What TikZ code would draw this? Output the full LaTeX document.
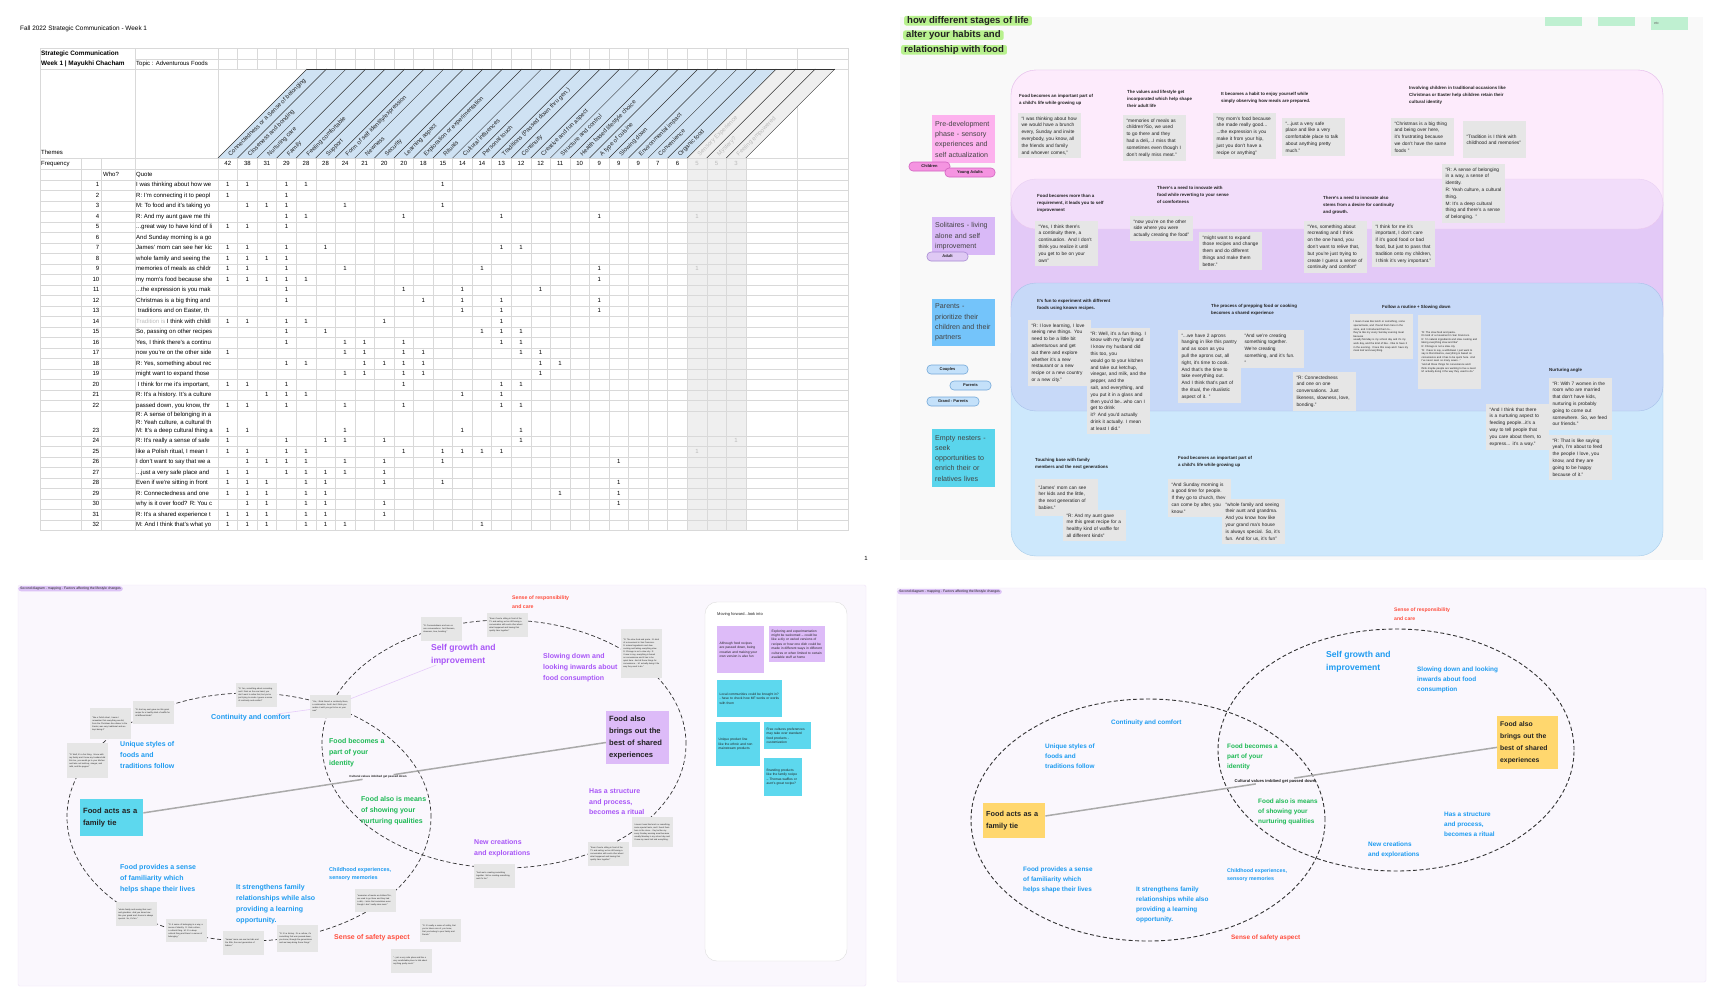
\documentclass[tikz,border=0pt]{standalone}
\usepackage{fontspec}
\setmainfont{Liberation Sans}
\usetikzlibrary{positioning}

\definecolor{gridgrey}{HTML}{D9D9D9}
\definecolor{headblue}{HTML}{CFE2F3}
\definecolor{headgrey}{HTML}{EFEFEF}
\definecolor{greytext}{HTML}{BBBBBB}
\definecolor{darktext}{HTML}{222222}
\definecolor{panelgrey}{HTML}{F9F9F9}
\definecolor{notegrey}{HTML}{E6E6E6}
\definecolor{bandpink}{HTML}{FDEBFC}
\definecolor{bandpinkline}{HTML}{E9C6EE}
\definecolor{bandpurple}{HTML}{E3C9F7}
\definecolor{bandpurpleline}{HTML}{C9A6E6}
\definecolor{bandblue}{HTML}{C7D9F8}
\definecolor{bandblueline}{HTML}{A9C1EA}
\definecolor{bandsky}{HTML}{CDE8FC}
\definecolor{bandskyline}{HTML}{A9CDEA}
\definecolor{stpink}{HTML}{FDB2EE}
\definecolor{stpurple}{HTML}{D9B9F7}
\definecolor{stblue}{HTML}{74C4FA}
\definecolor{stteal}{HTML}{5AD5EC}
\definecolor{pillpink}{HTML}{F594E1}
\definecolor{pillpinkline}{HTML}{D262C0}
\definecolor{pillpurple}{HTML}{DFC9F4}
\definecolor{pillpurpleline}{HTML}{A78BD3}
\definecolor{pillblue}{HTML}{C4E1FA}
\definecolor{pillblueline}{HTML}{73A8D8}
\definecolor{hlgreen}{HTML}{B8F18E}
\definecolor{mintnote}{HTML}{BFF0D1}
\definecolor{mapbg}{HTML}{FAF7FD}
\definecolor{mapedge}{HTML}{F0E4F8}
\definecolor{tagpurple}{HTML}{DCC3F6}
\definecolor{mappurple}{HTML}{A855F7}
\definecolor{mapblue}{HTML}{1D9BF0}
\definecolor{mapgreen}{HTML}{1DB954}
\definecolor{mapred}{HTML}{FF4D3D}
\definecolor{lilacbox}{HTML}{DDBBF8}
\definecolor{tealbox}{HTML}{5DD8EE}
\definecolor{yellowbox}{HTML}{FFD76E}
\definecolor{linegrey}{HTML}{AAAAAA}
\definecolor{ringgrey}{HTML}{333333}
\definecolor{faintpurple}{HTML}{E6CCF9}
\definecolor{mfedge}{HTML}{DDDDDD}

\newcommand{\fsz}[2]{\fontsize{#1}{#2}\selectfont}

\tikzset{
  gridline/.style={draw=gridgrey, line width=0.5pt},
  cell/.style={font=\fsz{6}{7}, inner sep=0pt, text height=4.3pt, text depth=1.2pt},
  theme/.style={font=\fsz{6}{7}, rotate=45, anchor=base west, inner sep=0pt, text=darktext},
  quotebox/.style={fill=notegrey, anchor=north west, align=left, text width=56pt, inner xsep=3.3pt, inner ysep=3.5pt, font=\fsz{4.8}{6.8}, text=darktext},
  headline/.style={anchor=north west, align=left, inner sep=0pt, font=\bfseries\fsz{4.4}{7}, text=darktext},
  stagebox/.style={anchor=north west, minimum width=63pt, text width=57pt, inner xsep=3pt, align=left, font=\fsz{7.1}{10.3}, text=darktext!85},
  pill/.style={rounded corners=4pt, minimum height=9pt, inner sep=0pt, font=\bfseries\fsz{4}{5}, text=darktext, line width=0.6pt},
  hilite/.style={fill=hlgreen, anchor=west, inner xsep=3pt, inner ysep=0.3pt, font=\bfseries\fsz{9.6}{11}, text=darktext, rounded corners=2pt},
  tinynote/.style={fill=notegrey, anchor=north west, text width=36pt, inner sep=2.2pt, align=left, font=\fsz{2.1}{3}, text=darktext},
  maptag/.style={anchor=north west, fill=tagpurple, rounded corners=3pt, inner xsep=2pt, inner ysep=1pt, font=\fsz{3.4}{4}, text=darktext},
  maptext/.style={anchor=base west, align=left, inner sep=0pt, font=\bfseries\fsz{7}{11}},
  maptextb/.style={anchor=base west, align=left, inner sep=0pt, font=\bfseries\fsz{6.4}{10}},
  mapbox/.style={anchor=north west, text width=57pt, inner xsep=3pt, align=left, font=\bfseries\fsz{7.6}{12}, text=darktext},
  tieline/.style={draw=linegrey, line width=1.5pt},
  ringline/.style={draw=ringgrey, dash pattern=on 4pt off 2.5pt, line width=0.7pt},
  stickynote/.style={anchor=north west, align=left, inner sep=2.5pt, font=\fsz{3.3}{4.4}, text=darktext},
}

\begin{document}
\hyphenpenalty=10000
\exhyphenpenalty=10000
\begin{tikzpicture}[x=1pt,y=-1pt]
\useasboundingbox (0,0) rectangle (1732,1005);
\fill[white] (0,0) rectangle (1732,1005);

% ================= Spreadsheet =================
\node[anchor=west, font=\fsz{6.4}{7.5}, inner sep=0pt] (sheettitle) at (20,29) {Fall 2022 Strategic Communication - Week 1};

% Shaded columns
\fill[headgrey] (687.2,158) rectangle (745.85,530.5);

% Grid lines
\draw[gridline] (40,48) -- (848,48);
\draw[gridline] (135,59) -- (848,59);
\foreach \y in {69,158,169,180}
  \draw[gridline] (40,\y) -- (848,\y);
\foreach \k in {1,...,22}
  \draw[gridline] (40,{180+10.5*\k}) -- (848,{180+10.5*\k});
\foreach \k in {0,...,9}
  \draw[gridline] (40,{436+10.5*\k}) -- (848,{436+10.5*\k});
\foreach \x in {40,135,218,797,848}
  \draw[gridline] (\x,48) -- (\x,530.5);
\foreach \x in {81,101}
  \draw[gridline] (\x,158) -- (\x,530.5);
\foreach \k in {1,...,27} {
  \draw[gridline] ({218+19.55*\k},48) -- ({218+19.55*\k},69);
  \draw[gridline] ({218+19.55*\k},158) -- ({218+19.55*\k},530.5);
}

% Slanted theme header
\fill[headblue] (218,158) -- (687.2,158) -- (776.2,69) -- (307,69) -- cycle;
\fill[headgrey] (687.2,158) -- (745.85,158) -- (834.85,69) -- (776.2,69) -- cycle;
\foreach \k in {0,...,27}
  \draw[ringgrey, line width=0.5pt] ({218+19.55*\k},158) -- ({307+19.55*\k},69);
\draw[ringgrey, line width=0.9pt] (307,69) -- (834.85,69);

\foreach \t [count=\k from 0] in {{Connectedness or a Sense of belonging},{Closeness and bonding},{Nurturing care},{Family},{Feeling comfortable},{Support},{Form of self identity/expression},{Newness},{Security},{Learning aspect},{Exploration or experimentation},{Rituals},{Cultural influences},{Personal touch},{Traditions (Passed down thru gen.)},{Continuity},{Creative and fun aspect},{Structure and control},{Health based lifestyle choice},{A type of cuisine},{Slowing down},{Environmental impact},{Convenience},{Organic food}}
  \node[theme] (th\k) at ({230.5+19.55*\k},156.5) {\t};
\foreach \t [count=\k from 24] in {{Sensory Experience},{Mystery?},{Feeling empowered}}
  \node[theme, text=greytext] (th\k) at ({230.5+19.55*\k},156.5) {\t};

% Header labels
\node[cell, anchor=west, font=\bfseries\fsz{6.4}{7.5}] (course) at (41,53.5) {Strategic Communication};
\node[cell, anchor=west, font=\bfseries\fsz{6.4}{7.5}] (week) at (41,64) {Week 1 | Mayukhi Chacham};
\node[cell, anchor=west] (topic) at (136,64) {Topic : Adventurous Foods};
\node[cell, anchor=west] (themes) at (41,153) {Themes};
\node[cell, anchor=west] (frequency) at (41,163.5) {Frequency};
\node[cell, anchor=west] (who) at (103,174.5) {Who?};
\node[cell, anchor=west] (quotehd) at (136,174.5) {Quote};

% Frequencies
\foreach \f [count=\k from 0] in {42,38,31,29,28,28,24,21,20,20,18,15,14,14,13,12,12,11,10,9,9,9,7,6}
  \node[cell] (fq\k) at ({227.8+19.55*\k},163.5) {\f};
\foreach \f [count=\k from 24] in {5,5,3}
  \node[cell, text=greytext] (fq\k) at ({227.8+19.55*\k},163.5) {\f};

% Row numbers
\foreach \r in {1,...,32} {
  \pgfmathsetmacro\ry{\r<23 ? 185.25+(\r-1)*10.5 : 441.25+(\r-24)*10.5}
  \node[cell, anchor=east] (rn\r) at (99.5,\ry) {\r};
}

% Quotes
\begin{scope}
\clip (135,180) rectangle (218,530.5);
\foreach \r/\q in {1/{I was thinking about how we},2/{R: I'm connecting it to peopl},3/{M: To food and it's taking yo},4/{R: And my aunt gave me thi},5/{...great way to have kind of li},6/{And Sunday morning is a go},7/{James' mom can see her kic},8/{whole family and seeing the},9/{memories of meals as childr},10/{my mom's food because she},11/{...the expression is you mak},12/{Christmas is a big thing and},13/{\ traditions and on Easter, th},14/{{\color{greytext}Tradition is} I think with childl},15/{So, passing on other recipes},16/{Yes, I think there's a continu},17/{now you're on the other side},18/{R: Yes, something about rec},19/{might want to expand those},20/{\ I think for me it's important,},21/{R: It's a history. It's a culture},22/{passed down, you know, thr},24/{R: It's really a sense of safe},25/{like a Polish ritual, I mean I},26/{I don't want to say that we a},27/{...just a very safe place and},28/{Even if we're sitting in front},29/{R: Connectedness and one},30/{why is it over food? R: You c},31/{R: It's a shared experience t},32/{M: And I think that's what yo}} {
  \pgfmathsetmacro\ry{\r<23 ? 185.25+(\r-1)*10.5 : 441.25+(\r-24)*10.5}
  \node[cell, anchor=west] (qt\r) at (136,\ry) {\q};
}
\node[cell, anchor=west] (qt23a) at (136,415.3) {R: A sense of belonging in a};
\node[cell, anchor=west] (qt23b) at (136,423) {R: Yeah culture, a cultural th};
\node[cell, anchor=west] (qt23c) at (136,430.75) {M: It's a deep cultural thing a};
\end{scope}

% Theme marks
\foreach \r/\cols in {1/{0,1,3,4,11},2/{0,3},3/{1,2,3,6,11},4/{3,4,9,14,19},5/{0,1,3},7/{0,1,3,5,14,15},8/{0,1,2,3},9/{0,1,3,6,13,19},10/{0,1,2,3,4,19},11/{3,9,12,16},12/{3,10,12,14,19},13/{12,14,19},14/{0,1,3,4,8,14},15/{3,5,13,14,15},16/{3,6,7,9,14,15},17/{0,6,7,9,10,15,16},18/{3,4,7,8,9,10,16,17},19/{6,7,9,10,16},20/{0,1,3,9,14,15},21/{2,3,4,12,14},22/{0,1,3,6,9,14,15},23/{0,1,6,12,15},24/{0,3,5,6,8,15},25/{0,1,3,4,9,11,12,13,14},26/{1,2,3,4,6,8,11,20},27/{0,1,3,4,5,6,8},28/{0,1,2,4,5,8,11,20},29/{0,1,2,4,5,17,20},30/{1,2,4,5,8,20},31/{0,1,2,4,5,8},32/{0,1,2,4,5,6,13}} {
  \pgfmathsetmacro\ry{\r<23 ? 185.25+(\r-1)*10.5 : 441.25+(\r-24)*10.5}
  \foreach \c in \cols
    \node[cell] (v\r x\c) at ({227.8+19.55*\c},\ry) {1};
}
\foreach \r/\c in {4/24,9/24,24/26,25/24} {
  \pgfmathsetmacro\ry{\r<23 ? 185.25+(\r-1)*10.5 : 441.25+(\r-24)*10.5}
  \node[cell, text=greytext] (v\r x\c) at ({227.8+19.55*\c},\ry) {1};
}
\node[cell] (pagenum) at (866,559) {1};

% ================= Life stages board =================
\fill[panelgrey] (900,17) rectangle (1703,560);

\node[hilite] (stagetitle1) at (904,20.7) {how different stages of life};
\node[hilite] (stagetitle2) at (903,35.2) {alter your habits and};
\node[hilite] (stagetitle3) at (901,49.8) {relationship with food};

\node[fill=mintnote, anchor=north west, minimum width=37pt, minimum height=9pt, inner sep=0pt] (mint1) at (1545,17) {};
\node[fill=mintnote, anchor=north west, minimum width=37pt, minimum height=9pt, inner sep=0pt] (mint2) at (1598,17) {};
\node[fill=mintnote, anchor=north west, minimum width=37pt, minimum height=13pt, inner xsep=3pt, text width=31pt, align=left, font=\fsz{3.6}{4.5}, text=darktext!70] (mint3) at (1651,17) {etc};

% Bands
\filldraw[fill=bandpink, draw=bandpinkline, rounded corners=25pt] (1011,70) rectangle (1663,229);
\filldraw[fill=bandpurple, draw=bandpurpleline, rounded corners=25pt] (1011,179) rectangle (1663,340);
\filldraw[fill=bandsky, draw=bandskyline, rounded corners=25pt] (1011,330) rectangle (1663,556);
\filldraw[fill=bandblue, draw=bandblueline, rounded corners=25pt] (1011,283) rectangle (1663,411);
\fill[bandpink, fill opacity=0.6, rounded corners=25pt] (1011,70) rectangle (1663,229);
\draw[bandpinkline, rounded corners=25pt] (1011,70) rectangle (1663,229);

% Stage labels
\node[stagebox, fill=stpink, minimum height=48pt] (predev) at (932,115) {Pre-development\\ phase - sensory\\ experiences and\\ self actualization};
\node[pill, fill=pillpink, draw=pillpinkline, minimum width=41pt] (children) at (929.5,166.5) {Children};
\node[pill, fill=pillpink, draw=pillpinkline, minimum width=50pt] (youngadults) at (970,172.5) {Young Adults};
\node[stagebox, fill=stpurple, minimum height=38pt] (solitaires) at (932,217) {Solitaires - living\\ alone and self\\ improvement};
\node[pill, fill=pillpurple, draw=pillpurpleline, minimum width=41pt] (adult) at (947.5,256.5) {Adult};
\node[stagebox, fill=stblue, minimum height=47pt] (parents) at (932,299) {Parents -\\ prioritize their\\ children and their\\ partners};
\node[pill, fill=pillblue, draw=pillblueline, minimum width=41pt] (couples) at (947.5,369.5) {Couples};
\node[pill, fill=pillblue, draw=pillblueline, minimum width=41pt] (parentstag) at (970.5,385.5) {Parents};
\node[pill, fill=pillblue, draw=pillblueline, minimum width=52pt] (grandparents) at (953,401.5) {Grand - Parents};
\node[stagebox, fill=stteal, minimum height=58pt] (nesters) at (932,429) {Empty nesters -\\ seek\\ opportunities to\\ enrich their or\\ relatives lives};

% Pink band
\node[headline] (hchild) at (1019,94) {Food becomes an important part of\\ a child's life while growing up};
\node[quotebox] (qbrunch) at (1018,113) {``I was thinking about how we would have a brunch every, Sunday and invite everybody, you know, all the friends and family and whoever comes,''};
\node[headline] (hvalues) at (1127,90) {The values and lifestyle get\\ incorporated which help shape\\ their adult life};
\node[quotebox] (qdeli) at (1123,115) {``memories of meals as children?So, we used to go there and they had a deli,...I miss that sometimes even though I don't really miss meat.''};
\node[headline] (hhabit) at (1221,92) {It becomes a habit to enjoy yourself while\\ simply observing how meals are prepared.};
\node[quotebox] (qmom) at (1213,113) {``my mom's food because she made really good... ...the expression is you make it from your hip, just you don't have a recipe or anything''};
\node[quotebox] (qsafe) at (1282,118) {``...just a very safe place and like a very comfortable place to talk about anything pretty much.''};
\node[headline] (htradition) at (1409,86) {Involving children in traditional occasions like\\ Christmas or Easter help children retain their\\ cultural identity};
\node[quotebox] (qchristmas) at (1391,118) {``Christmas is a big thing and being over here, it's frustrating because we don't have the same foods ''};
\node[quotebox, minimum height=37pt] (qtradition) at (1463,121) {``Tradition is I think with childhood and memories''};
\node[quotebox] (qbelonging) at (1442,164) {``R: A sense of belonging in a way, a sense of identity.\\ R: Yeah culture, a cultural thing.\\ M: It's a deep cultural thing and there's a sense of belonging. ''};

% Purple band
\node[headline] (hrequire) at (1037,194) {Food becomes more than a\\ requirement, it leads you to self\\ improvement};
\node[quotebox] (qcontinuity) at (1035,221) {``Yes, I think there's a continuity there, a continuation. And I don't think you realize it until you get to be on your own''};
\node[headline] (hinnovate) at (1157,186) {There's a need to innovate with\\ food while reverting to your sense\\ of comfortness};
\node[quotebox] (qotherside) at (1130,216) {``now you're on the other side where you were actually creating the food''};
\node[quotebox] (qexpand) at (1199,232) {``might want to expand those recipes and change them and do different things and make them better.''};
\node[headline] (hgrowth) at (1323,196) {There's a need to innovate also\\ stems from a desire for continuity\\ and growth.};
\node[quotebox] (qrecreate) at (1304,221) {``Yes, something about recreating and I think on the one hand, you don't want to relive that, but you're just trying to create I guess a sense of continuity and comfort''};
\node[quotebox] (qpass) at (1372,221) {``I think for me it's important, I don't care if it's good food or bad food, but just to pass that tradition onto my children, I think it's very important.''};

% Blue band
\node[headline] (hexperiment) at (1037,299) {It's fun to experiment with different\\ foods using known recipes.};
\node[quotebox] (qlearning) at (1028,320) {``R: I love learning, I love seeing new things. You need to be a little bit adventurous and get out there and explore whether it's a new restaurant or a new recipe or a new country or a new city.''};
\node[quotebox] (qketchup) at (1087,328) {``R: Well, it's a fun thing. I know with my family and I know my husband did this too, you\\ would go to your kitchen and take out ketchup, vinegar, and milk, and the pepper, and the\\ salt, and everything, and you put it in a glass and then you'd be...who can I get to drink\\ it? And you'd actually drink it actually. I mean at least I did.''};
\node[headline] (hprepping) at (1211,304) {The process of prepping food or cooking\\ becomes a shared experience};
\node[quotebox] (qaprons) at (1178,330) {``...we have 2 aprons hanging in like this pantry and as soon as you pull the aprons out, all right, it's time to cook. And that's the time to take everything out. And I think that's part of the ritual, the ritualistic aspect of it. ''};
\node[quotebox] (qtogether) at (1241,330) {``And we're creating something together. We're creating something, and it's fun. ''};
\node[quotebox] (qconnected) at (1293,372) {``R: Connectedness and one on one conversations. Just likeness, slowness, love, bonding.''};
\node[headline] (hroutine) at (1382,305) {Follow a routine + Slowing down};
\node[quotebox, font=\fsz{2.6}{3.6}, minimum height=45pt] (qsunday) at (1350,314) {I mean it was like lunch or something, some special taste, and I found them here in the store, and I introduced them to...\\ they're like my every Sunday evening meal because\\ usually Monday is my school day and it's my work day, and the kind of like...I like to have it in the evening. I have this soup and I have my meat loaf and everything.};
\node[quotebox, font=\fsz{2.6}{3.6}, minimum height=74pt] (qslowfood) at (1418,315) {``R: The slow food and pasta.\\ It's kind of a movement in San Francisco.\\ R: I'm natural ingredients and slow cooking and taking everything slow and like''\\ R: Chicago is not a slow city.\\ ``R: I have to say, a withdrawn I just want to say is that America, everything is based on convenience and it has to be quick here. And I've never seen so many wows...''\\ ``and all those things for convenience and I think maybe people are wanting to live a need\\ M: actually doing it the way they used to do.''};
\node[headline] (hnurture) at (1549,368) {Nurturing angle};
\node[quotebox] (qwomen) at (1549,378) {``R: With 7 women in the room who are married that don't have kids, nurturing is probably\\ going to come out somewhere. So, we feed our friends.''};
\node[quotebox] (qfeeding) at (1486,404) {``And I think that there is a nurturing aspect to feeding people...it's a way to tell people that you care about them, to express... it's a way.''};
\node[quotebox] (qfeedlove) at (1549,435) {``R: That is like saying yeah, I'm about to feed the people I love, you know, and they are\\ going to be happy because of it.''};

% Light blue band
\node[headline] (htouching) at (1035,458) {Touching base with family\\ members and the next generations};
\node[quotebox, minimum height=37pt] (qjames) at (1035,479) {``James' mom can see her kids and the little, the next generation of babies.''};
\node[quotebox] (qwaffle) at (1063,510) {``R: And my aunt gave me this great recipe for a healthy kind of waffle for all different kinds''};
\node[headline] (hchild2) at (1178,456) {Food becomes an important part of\\ a child's life while growing up};
\node[quotebox] (qchurch) at (1168,479) {``And Sunday morning is a good time for people. If they go to church, they can come by after, you know.''};
\node[quotebox] (qgrandma) at (1222,499) {``whole family and seeing their aunt and grandma. And you know how like your grand ma's house is always special. So, it's fun. And for us, it's fun''};

% ================= Mapping with quotes =================
\filldraw[fill=mapbg, draw=mapedge, rounded corners=2pt] (18,585) rectangle (866,986);
\node[maptag] (maptag1) at (18,586) {Second diagram - mapping - Factors affecting the lifestyle changes};

\draw[ringline] (249,817) ellipse [x radius=182pt, y radius=124pt];
\draw[ringline] (504,744) ellipse [x radius=182pt, y radius=124pt];

% Quote notes on the rings
\node[tinynote, minimum height=24pt] (na) at (421,617) {``R: Connectedness and one on one conversations. Just likeness, slowness, love, bonding.''};
\node[tinynote, minimum height=24pt] (nb) at (236,683) {``R: Yes, something about recreating and I think on the one hand, you don't want to relive that, but you're just trying to create I guess a sense of continuity and comfort''};
\node[tinynote, minimum height=23pt] (nc) at (310,695) {``Yes, I think there's a continuity there, a continuation. And I don't think you realize it until you get to be on your own''};
\node[tinynote, minimum height=23pt] (nd) at (133,701) {``R: And my aunt gave me this great recipe for a healthy kind of waffle for all different kinds''};
\node[tinynote, minimum height=31pt] (ne) at (90,708) {``like a Polish ritual, I mean I remember that everything we did, from the Christmas Eve dinner to the Easter, was very traditional and we kept doing it''};
\node[tinynote, minimum height=35pt] (nf) at (67,743) {``R: Well, it's a fun thing. I know with my family and I know my husband did this too, you would go to your kitchen and take out ketchup, vinegar, and milk, and the pepper''};
\node[tinynote, minimum height=24pt] (ng) at (116,902) {``whole family and seeing their aunt and grandma. And you know how like your grand ma's house is always special. So, it's fun.''};
\node[tinynote, minimum height=23pt] (nh) at (166,919) {``R: A sense of belonging in a way, a sense of identity. R: Yeah culture, a cultural thing. M: It's a deep cultural thing and there's a sense of belonging.''};
\node[tinynote, minimum height=24pt] (ni) at (223,931) {``James' mom can see her kids and the little, the next generation of babies.''};
\node[tinynote, minimum height=27pt] (nj) at (277,925) {``R: It's a history. It's a culture, it's something that was passed down, you know, through the generations and we keep doing those things''};
\node[tinynote, minimum height=23pt] (nk) at (355,889) {``memories of meals as children?So, we used to go there and they had a deli,...I miss that sometimes even though I don't really miss meat.''};
\node[tinynote, minimum height=24pt] (nl) at (391,949) {``...just a very safe place and like a very comfortable place to talk about anything pretty much.''};
\node[tinynote, minimum height=23pt] (nm) at (420,919) {``R: It's really a sense of safety, that you're taken care of, you know, that you belong to your family and friends.''};
\node[tinynote, minimum height=24pt] (nn) at (487,613) {``Even if we're sitting in front of the TV and eating, we're still having a conversation with each other about what happened and having that quality time together''};
\node[tinynote, minimum height=49pt] (no) at (621,629) {``R: The slow food and pasta. It's kind of a movement in San Francisco. R: natural ingredients and slow cooking and taking everything slow. R: Chicago is not a slow city. R: I have to say, everything is based on convenience and it has to be quick here. And all those things for convenience... M: actually doing it the way they used to do.''};
\node[tinynote, minimum height=30pt] (np) at (632,817) {I mean it was like lunch or something, some special taste, and I found them here in the store... they're like my every Sunday evening meal because usually Monday is my school day and I have my meat loaf and everything.};
\node[tinynote, minimum height=24pt] (nq) at (588,842) {``Even if we're sitting in front of the TV and eating, we're still having a conversation with each other about what happened and having that quality time together''};
\node[tinynote, minimum height=24pt] (nr) at (474,864) {``And we're creating something together. We're creating something, and it's fun.''};

% Factors (base = last line)
\node[maptext, text=mappurple, font=\bfseries\fsz{8.6}{13}] (selfgrowth) at (431,663) {Self growth and\\ improvement};
\node[maptext, text=mapred, font=\bfseries\fsz{5.2}{9}] (responsibility) at (512,608) {Sense of responsibility\\ and care};
\node[maptext, text=mappurple] (slowing) at (543,680.5) {Slowing down and\\ looking inwards about\\ food consumption};
\node[mapbox, fill=lilacbox, minimum height=53pt] (shared) at (606,711) {Food also brings out the best of shared experiences};
\node[maptext, text=mappurple, font=\bfseries\fsz{7}{10.5}] (ritual) at (589,814.5) {Has a structure\\ and process,\\ becomes a ritual};
\node[maptext, text=mappurple, font=\bfseries\fsz{7}{10.8}] (newcreations) at (474,855.3) {New creations\\ and explorations};
\node[maptext, text=mapblue, font=\bfseries\fsz{7.2}{11}] (continuity) at (211,719.5) {Continuity and comfort};
\node[maptext, text=mapblue] (unique) at (120,768.5) {Unique styles of\\ foods and\\ traditions follow};
\node[mapbox, fill=tealbox, minimum height=37pt] (tie) at (80,799) {Food acts as a family tie};
\node[maptext, text=mapgreen] (identity) at (329,765.5) {Food becomes a\\ part of your\\ identity};
\node[font=\bfseries\fsz{2.9}{3.5}, inner sep=0.8pt, text=darktext] (culture) at (378,777) {Cultural values imbibed get passed down};
\node[maptext, text=mapgreen] (nurturing) at (361,823.5) {Food also is means\\ of showing your\\ nurturing qualities};
\node[maptext, text=mapblue] (familiarity) at (120,891.5) {Food provides a sense\\ of familiarity which\\ helps shape their lives};
\node[maptext, text=mapblue] (strengthens) at (236,922.5) {It strengthens family\\ relationships while also\\ providing a learning\\ opportunity.};
\node[maptext, text=mapblue, font=\bfseries\fsz{5.5}{8.7}] (childhood) at (329,879.7) {Childhood experiences,\\ sensory memories};
\node[maptext, text=mapred, font=\bfseries\fsz{7}{9}] (safety) at (334,939.5) {Sense of safety aspect};

\draw[tieline] (tie) -- (culture);
\draw[tieline] (culture) -- (shared);
\draw[faintpurple, line width=0.6pt] (selfgrowth) -- (nc);
\draw[faintpurple, line width=0.6pt] (continuity) -- (nc);

% Moving forward
\filldraw[fill=white, draw=mfedge, rounded corners=12pt] (705,602) rectangle (847,961);
\node[anchor=west, font=\fsz{4}{5}, inner sep=0pt, text=darktext] (mftitle) at (717,614) {Moving forward...look into};
\node[stickynote, fill=lilacbox, text width=42pt, minimum height=47pt] (mfrecipes) at (717,626) {Although food recipes are passed down, being creative and making your own version is also fun};
\node[stickynote, fill=lilacbox, text width=51pt, minimum height=36pt] (mfexplore) at (769,626) {Exploring and experimentation might be welcomed -- could be like a diy or varied versions of recipes or how one dish could be made in different ways in different cultures or when limited to certain available stuff at home};
\node[stickynote, fill=tealbox, text width=60pt, minimum height=37pt] (mflocal) at (717,680) {Local communities could be brought in? - have to check how MF works or works with them};
\node[stickynote, fill=tealbox, text width=39pt, minimum height=44pt] (mfunique) at (716,722) {Unique product line like the ethnic and non mainstream products};
\node[stickynote, fill=tealbox, text width=42pt, minimum height=27pt] (mfcustom) at (764,722) {Free cultures preferences may take over standard food products - customization};
\node[stickynote, fill=tealbox, text width=33pt, minimum height=38pt] (mfbrand) at (764,758) {Branding products like the family recipe -- Thomas waffles or aunt's great recipe?};

% ================= Mapping, clean =================
\filldraw[fill=mapbg, draw=mapedge, rounded corners=2pt] (897,588) rectangle (1706,982);
\node[maptag] (maptag2) at (897,589) {Second diagram - mapping - Factors affecting the lifestyle changes};

\draw[ringline, line width=0.9pt] (1148,820) ellipse [x radius=177pt, y radius=121pt];
\draw[ringline, line width=0.9pt] (1396,750) ellipse [x radius=178pt, y radius=121pt];

\node[maptextb, text=mapblue] (continuity2) at (1111,724.3) {Continuity and comfort};
\node[maptextb, text=mapblue] (unique2) at (1045,768.2) {Unique styles of\\ foods and\\ traditions follow};
\node[maptextb, text=mapgreen] (identity2) at (1227,768.2) {Food becomes a\\ part of your\\ identity};
\node[maptextb, text=mapgreen] (nurturing2) at (1258,823.2) {Food also is means\\ of showing your\\ nurturing qualities};
\node[maptextb, text=mapblue] (familiarity2) at (1023,891.2) {Food provides a sense\\ of familiarity which\\ helps shape their lives};
\node[maptextb, text=mapblue] (strengthens2) at (1136,921.2) {It strengthens family\\ relationships while also\\ providing a learning\\ opportunity.};
\node[maptextb, text=mapblue, font=\bfseries\fsz{5.3}{8.6}] (childhood2) at (1227,880.6) {Childhood experiences,\\ sensory memories};
\node[maptextb, text=mapred, font=\bfseries\fsz{6.4}{9}] (safety2) at (1231,939.3) {Sense of safety aspect};
\node[maptextb, text=mapred, font=\bfseries\fsz{5.1}{8.7}] (responsibility2) at (1394,620.5) {Sense of responsibility\\ and care};
\node[maptextb, text=mapblue, font=\bfseries\fsz{8.6}{13}] (selfgrowth2) at (1326,670) {Self growth and\\ improvement};
\node[maptextb, text=mapblue] (slowing2) at (1417,691.2) {Slowing down and looking\\ inwards about food\\ consumption};
\node[maptextb, text=mapblue] (ritual2) at (1444,836.2) {Has a structure\\ and process,\\ becomes a ritual};
\node[maptextb, text=mapblue] (newcreations2) at (1368,856.2) {New creations\\ and explorations};

\node[mapbox, fill=yellowbox, text width=56pt, minimum height=35pt, font=\bfseries\fsz{7.3}{12}] (tie2) at (983,803) {Food acts as a family tie};
\node[mapbox, fill=yellowbox, text width=55pt, minimum height=53pt, font=\bfseries\fsz{6.8}{11.7}] (shared2) at (1497,716) {Food also brings out the best of shared experiences};
\node[font=\bfseries\fsz{4.1}{5}, inner sep=0.8pt, text=darktext] (culture2) at (1275,781) {Cultural values imbibed get passed down};

\draw[tieline] (tie2) -- (culture2);
\draw[tieline] (culture2) -- (shared2);

\end{tikzpicture}
\end{document}
